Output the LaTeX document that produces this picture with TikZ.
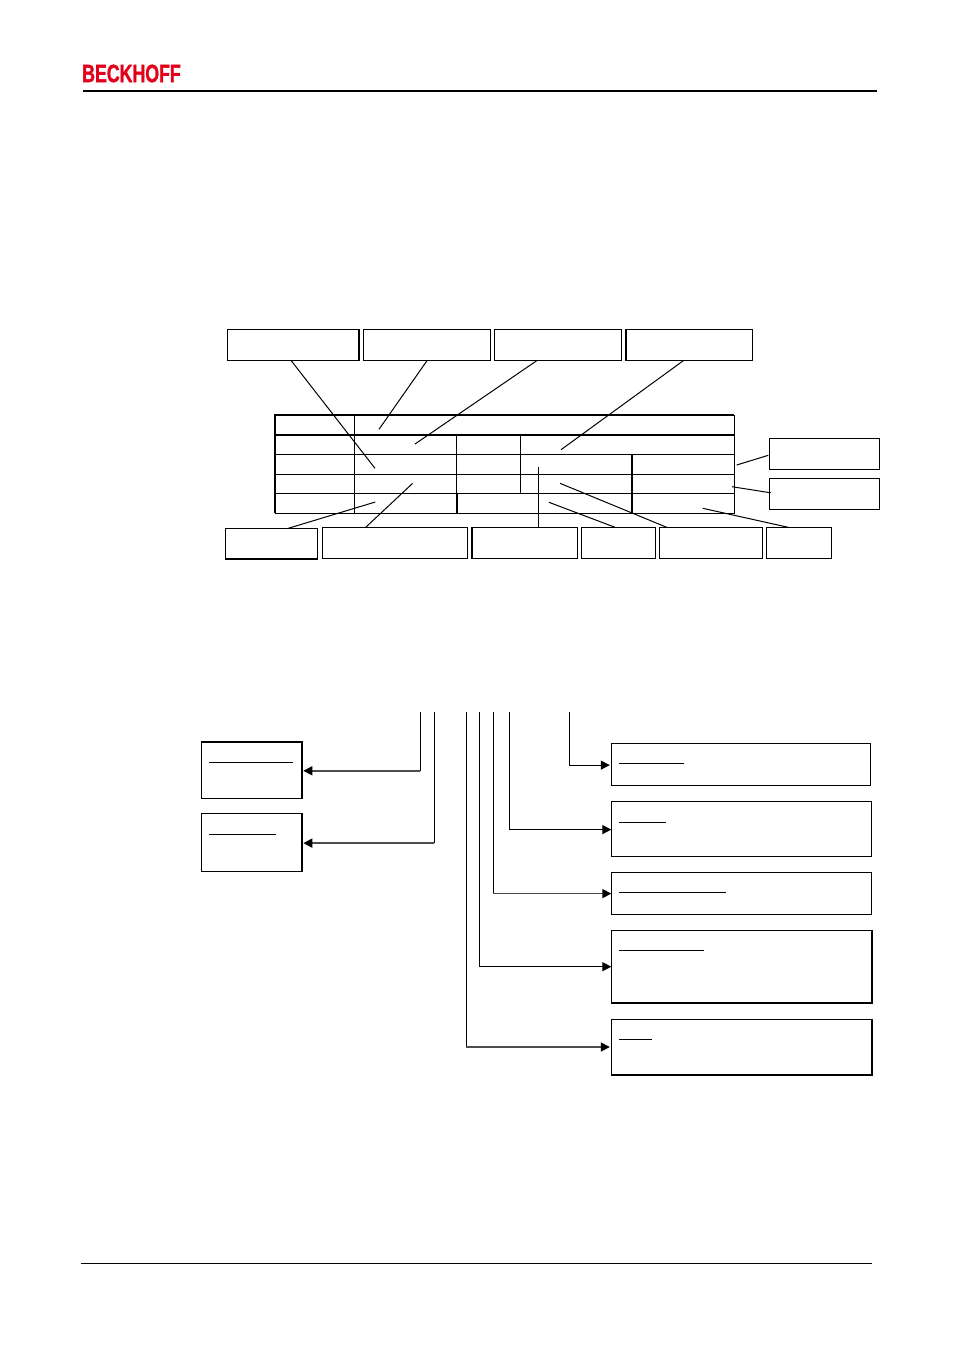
\documentclass[tikz,border=0pt]{standalone}
\usepackage{fontspec}
\usepackage{graphicx}
\setmainfont{Liberation Sans}
\newfontfamily\logofont[FakeBold=1.6]{Liberation Sans Bold}
\usetikzlibrary{arrows.meta}
\definecolor{beckred}{HTML}{E2001A}
\tikzset{
  box/.style={draw=black,line width=1pt,inner sep=0pt,outer sep=0pt,fill=white},
  thin line/.style={draw=black,line width=1pt},
  heavy line/.style={draw=black,line width=2pt},
  leader/.style={draw=black,line width=1pt},
  stem/.style={draw=black,line width=1pt},
  feed/.style={draw=black,line width=1.2pt,-{Triangle[length=9pt,width=9pt]}},
  feedgrey/.style={draw=black!70,line width=1.6pt,-{Triangle[length=9pt,width=9pt,color=black]}},
  strike/.style={draw=black,line width=1pt},
  rule/.style={draw=black}
}
\newcommand{\bx}[5]{%
  \pgfmathsetmacro{\bw}{#4-#2}\pgfmathsetmacro{\bh}{#5-#3}%
  \pgfmathsetmacro{\bcx}{(#2+#4)/2}\pgfmathsetmacro{\bcy}{(#3+#5)/2}%
  \node[box,minimum width=\bw pt,minimum height=\bh pt] (#1) at (\bcx,\bcy) {};}
\begin{document}
\begin{tikzpicture}[x=1pt,y=-1pt]
\useasboundingbox (0,0) rectangle (954,1350);
% header and footer
\node[inner sep=0pt,text=beckred] (logo) at (131.5,73.5) {\scalebox{0.71}[1]{\fontsize{25}{25}\selectfont\logofont BECKHOFF}};
\draw[rule,line width=2pt] (83,91) -- (877,91);
\draw[rule,line width=1pt] (81,1263.5) -- (872,1263.5);

% table
\draw[heavy line] (274.7,513.3) -- (274.7,415) -- (734.3,415);
\draw[thin line] (734.3,415) -- (734.3,513.3) -- (274.7,513.3);
\draw[heavy line] (274.7,434.7) -- (734.3,434.7);
\draw[thin line] (274.7,454.3) -- (734.3,454.3);
\draw[thin line] (274.7,474.3) -- (734.3,474.3);
\draw[thin line] (274.7,493.3) -- (734.3,493.3);
\draw[thin line] (354.3,415) -- (354.3,513.3);
\draw[thin line] (456.3,434.7) -- (456.3,493.3);
\draw[heavy line] (457,493.3) -- (457,513.3);
\draw[thin line] (520.3,434.7) -- (520.3,493.3);
\draw[heavy line] (631.9,454.3) -- (631.9,513.3);

% label boxes around the table
\bx{t1}{227.5}{329.3}{359}{360.7}
\bx{t2}{363.3}{329.3}{490.7}{360.7}
\bx{t3}{494.3}{329.3}{621.7}{360.7}
\bx{t4}{625.7}{329.3}{752.7}{360.7}
\bx{r1}{769.3}{438.3}{879.7}{469.3}
\bx{r2}{769.3}{478.3}{879.7}{509.3}
\bx{b1}{225.3}{528.3}{317.7}{558.7}
\bx{b2}{322.3}{527.3}{467.7}{558.3}
\bx{b3}{471.7}{527.3}{577.7}{558.3}
\bx{b4}{581.3}{527.3}{655.7}{558.3}
\bx{b5}{659.3}{527.3}{762.3}{558.3}
\bx{b6}{766.3}{527.3}{831.7}{558.3}
\draw[heavy line] (t1.south east) -- (t1.north east);
\draw[heavy line] (t4.south west) -- (t4.north west);
\draw[heavy line] (b3.south west) -- (b3.north west);
\draw[heavy line] (b1.south west) -- (b1.south east);

% free ends inside the table
\coordinate (e1) at (375,468.3);
\coordinate (e2) at (379,429.3);
\coordinate (e3) at (415,444);
\coordinate (e4) at (561,449.7);
\coordinate (e5) at (736.7,465);
\coordinate (e6) at (732,486.7);
\coordinate (e7) at (375.3,502);
\coordinate (e8) at (412.7,483.3);
\coordinate (e9) at (538.3,467);
\coordinate (e10) at (549,502.3);
\coordinate (e11) at (560,483.3);
\coordinate (e12) at (702.7,508.3);
\draw[leader] ([xshift=-2pt]t1.south) -- (e1);
\draw[leader] (t2.south) -- (e2);
\draw[leader] ([xshift=42.4pt]t3.south west) -- (e3);
\draw[leader] ([xshift=-5.9pt]t4.south) -- (e4);
\draw[leader] ([yshift=-1.5pt,xshift=-1pt]r1.west) -- (e5);
\draw[leader] ([yshift=1pt,xshift=1.4pt]r2.west) -- (e6);
\draw[leader] ([xshift=63pt]b1.north west) -- (e7);
\draw[leader] ([xshift=43.4pt]b2.north west) -- (e8);
\draw[leader] ([xshift=66.6pt]b3.north west) -- (e9);
\draw[leader] ([xshift=33.7pt]b4.north west) -- (e10);
\draw[leader] ([xshift=7.4pt]b5.north west) -- (e11);
\draw[leader] ([xshift=22pt]b6.north west) -- (e12);

% lower key boxes
\bx{L1}{201.3}{741.7}{302.3}{798.3}
\bx{L2}{201.3}{813.3}{302.3}{871.3}
\bx{R1}{611.3}{743.3}{870.7}{785.3}
\bx{R2}{611.3}{801.3}{871.7}{856.3}
\bx{R3}{611.3}{872.3}{871.7}{914.3}
\bx{R4}{611.3}{930.7}{872.3}{1002.7}
\bx{R5}{611.3}{1019.3}{872.3}{1074.7}
\draw[heavy line] (L1.north west) -- (L1.north east) -- (L1.south east);
\draw[heavy line] (L2.north east) -- (L2.south east);
\draw[heavy line] (R4.south west) -- (R4.south east) -- (R4.north east);
\draw[heavy line] (R5.south west) -- (R5.south east) -- (R5.north east);

% underlines inside the key boxes
\draw[strike] (209,762.3) -- (293,762.3);
\draw[strike] (209,834.3) -- (276,834.3);
\draw[strike] (619,763.3) -- (684,763.3);
\draw[strike] (619,822.3) -- (666,822.3);
\draw[strike] (619,892.3) -- (726,892.3);
\draw[strike] (619,950.3) -- (704,950.3);
\draw[strike] (619,1039) -- (652,1039);

% feed lines from the code
\coordinate (c1) at (420.3,712);
\coordinate (c2) at (434.3,712);
\coordinate (c3) at (466.3,712);
\coordinate (c4) at (479.3,712);
\coordinate (c5) at (493.3,712);
\coordinate (c6) at (509.3,712);
\coordinate (c7) at (569.3,712);
\coordinate (a1) at ([xshift=1pt,yshift=-0.8pt]L1.east);
\coordinate (a2) at ([xshift=1pt,yshift=-0.8pt]L2.east);
\coordinate (a3) at ([xshift=-1.5pt,yshift=-0.8pt]R1.west);
\coordinate (a4) at ([yshift=-0.8pt]R2.west);
\coordinate (a5) at ([yshift=-0.3pt]R3.west);
\coordinate (a6) at ([yshift=0pt]R4.west);
\coordinate (a7) at ([xshift=-1.5pt]R5.west);
\draw[stem] (c1) -- (c1 |- a1);
\draw[stem] (c2) -- (c2 |- a2);
\draw[stem] (c7) -- (c7 |- a3);
\draw[stem] (c6) -- (c6 |- a4);
\draw[stem] (c5) -- (c5 |- a5);
\draw[stem] (c4) -- (c4 |- a6);
\draw[stem] (c3) -- (c3 |- a7);
\draw[feedgrey] (c1 |- a1) -- (a1);
\draw[feedgrey] (c2 |- a2) -- (a2);
\draw[feed] (c7 |- a3) -- (a3);
\draw[feed] (c6 |- a4) -- (a4);
\draw[feedgrey] (c5 |- a5) -- (a5);
\draw[feed] (c4 |- a6) -- (a6);
\draw[feedgrey] (c3 |- a7) -- (a7);
\end{tikzpicture}
\end{document}
